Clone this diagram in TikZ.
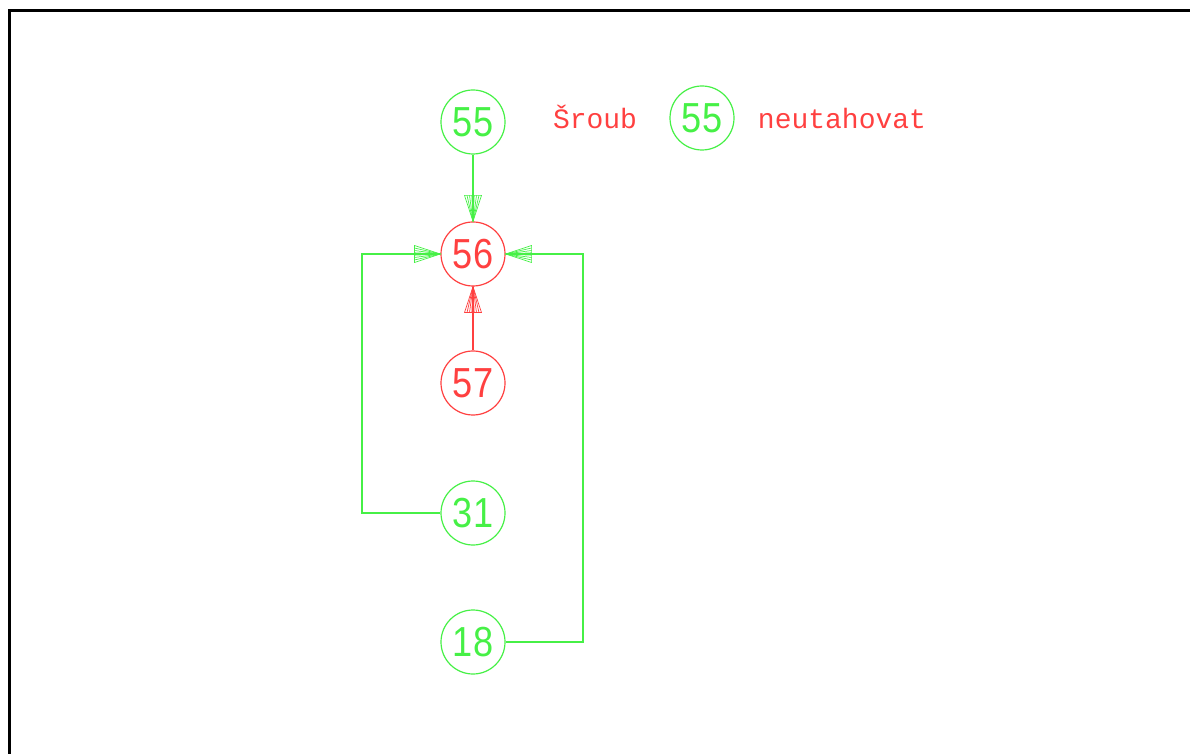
\documentclass[tikz,border=0pt]{standalone}
\usepackage{fontspec}
\setmainfont{Liberation Sans}
\newfontfamily\labelmono{Liberation Mono}
\usetikzlibrary{calc}
\definecolor{cadgreen}{RGB}{70,240,70}
\definecolor{cadred}{RGB}{255,64,64}
\tikzset{
  x=1pt, y=1pt,
  cadline/.style={line width=1.2pt},
  ball/.style={circle, draw, line width=1.2pt, minimum size=64pt, inner sep=0pt,
    font=\fontsize{42}{42}\selectfont},
  gball/.style={ball, draw=cadgreen, text=cadgreen},
  rball/.style={ball, draw=cadred, text=cadred},
  legend/.style={text=cadred, font=\labelmono\fontsize{28}{28}\selectfont, inner sep=0pt},
  fan/.pic={
    \draw[line width=0.7pt] (0,0) -- (-26,-8.5) -- (-26,8.5) -- cycle;
    \foreach \yy in {-6,-3.5,-1.2,1.2,3.5,6} \draw[line width=0.7pt] (0,0) -- (-26,\yy);
  }
}
\newcommand{\dnum}[1]{\scalebox{0.86}[1]{#1}}
\begin{document}
\begin{tikzpicture}
\useasboundingbox (0,0) rectangle (1190,753);
% frame
\draw[line width=3pt] (9,-5) -- (9,742) -- (1200,742);
% nodes
\node[gball] (n55) at (473,631) {\dnum{55}};
\node[rball] (n56) at (473,499) {\dnum{56}};
\node[rball] (n57) at (473,370) {\dnum{57}};
\node[gball] (n31) at (473,240) {\dnum{31}};
\node[gball] (n18) at (473,111) {\dnum{18}};
% legend
\node[legend, anchor=base] (t1) at (595,624) {Šroub};
\node[gball] (lg55) at (702,635) {\dnum{55}};
\node[legend, anchor=base] (t2) at (842,624) {neutahovat};
% connectors
\draw[cadline, cadgreen] (n55.south) -- (n56.north) pic[cadgreen, rotate=-90]{fan};
\draw[cadline, cadred] (n57.north) -- (n56.south) pic[cadred, rotate=90]{fan};
\draw[cadline, cadgreen] (n31.west) -| (362,499) -- (n56.west) pic[cadgreen]{fan};
\draw[cadline, cadgreen] (n18.east) -| (583,499) -- (n56.east) pic[cadgreen, rotate=180]{fan};
\end{tikzpicture}
\end{document}
